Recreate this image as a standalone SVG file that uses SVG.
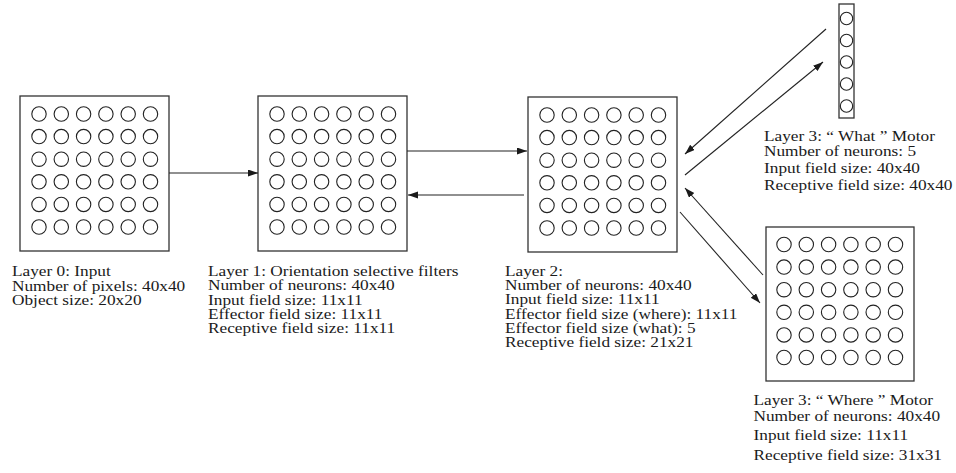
<svg xmlns="http://www.w3.org/2000/svg" xmlns:xlink="http://www.w3.org/1999/xlink" width="956" height="473" viewBox="0 0 956 473">
<style>
.box{fill:#fff;stroke:#333;stroke-width:1.3}
.n{fill:none;stroke:#222;stroke-width:1.1}
.c{stroke:#222;stroke-width:1.1;fill:none}
text{font-family:"Liberation Serif","Times New Roman",serif;font-size:15.5px;fill:#1a1a1a}
</style>
<defs>
<marker id="ah" markerUnits="userSpaceOnUse" markerWidth="11" markerHeight="8" refX="10" refY="3.5" orient="auto">
<path d="M0,0 L10,3.5 L0,7 z" fill="#1a1a1a"/>
</marker>
<g id="grid">
<g class="n">
<circle cx="19" cy="18" r="7.2"/><circle cx="41.3" cy="18" r="7.2"/><circle cx="63.6" cy="18" r="7.2"/><circle cx="85.9" cy="18" r="7.2"/><circle cx="108.2" cy="18" r="7.2"/><circle cx="130.5" cy="18" r="7.2"/>
<circle cx="19" cy="40.6" r="7.2"/><circle cx="41.3" cy="40.6" r="7.2"/><circle cx="63.6" cy="40.6" r="7.2"/><circle cx="85.9" cy="40.6" r="7.2"/><circle cx="108.2" cy="40.6" r="7.2"/><circle cx="130.5" cy="40.6" r="7.2"/>
<circle cx="19" cy="63.2" r="7.2"/><circle cx="41.3" cy="63.2" r="7.2"/><circle cx="63.6" cy="63.2" r="7.2"/><circle cx="85.9" cy="63.2" r="7.2"/><circle cx="108.2" cy="63.2" r="7.2"/><circle cx="130.5" cy="63.2" r="7.2"/>
<circle cx="19" cy="85.8" r="7.2"/><circle cx="41.3" cy="85.8" r="7.2"/><circle cx="63.6" cy="85.8" r="7.2"/><circle cx="85.9" cy="85.8" r="7.2"/><circle cx="108.2" cy="85.8" r="7.2"/><circle cx="130.5" cy="85.8" r="7.2"/>
<circle cx="19" cy="108.4" r="7.2"/><circle cx="41.3" cy="108.4" r="7.2"/><circle cx="63.6" cy="108.4" r="7.2"/><circle cx="85.9" cy="108.4" r="7.2"/><circle cx="108.2" cy="108.4" r="7.2"/><circle cx="130.5" cy="108.4" r="7.2"/>
<circle cx="19" cy="131" r="7.2"/><circle cx="41.3" cy="131" r="7.2"/><circle cx="63.6" cy="131" r="7.2"/><circle cx="85.9" cy="131" r="7.2"/><circle cx="108.2" cy="131" r="7.2"/><circle cx="130.5" cy="131" r="7.2"/>
</g>
</g>
</defs>
<rect width="956" height="473" fill="#fff"/>

<g id="layer0">
<rect class="box" x="20" y="96" width="149" height="155"/>
<use xlink:href="#grid" href="#grid" transform="translate(20,96)"/>
<text transform="translate(12,0) scale(1.115,1)"><tspan x="0" y="276.5">Layer 0: Input</tspan><tspan x="0" y="291">Number of pixels: 40x40</tspan><tspan x="0" y="305.5">Object size: 20x20</tspan></text>
</g>

<g id="layer1">
<rect class="box" x="258" y="96" width="149" height="155"/>
<use xlink:href="#grid" href="#grid" transform="translate(258,96)"/>
<text transform="translate(208,0) scale(1.115,1)"><tspan x="0" y="276">Layer 1: Orientation selective filters</tspan><tspan x="0" y="290.3">Number of neurons: 40x40</tspan><tspan x="0" y="304.6">Input field size: 11x11</tspan><tspan x="0" y="318.9">Effector field size: 11x11</tspan><tspan x="0" y="333.2">Receptive field size: 11x11</tspan></text>
</g>

<g id="layer2">
<rect class="box" x="528" y="97" width="149" height="155"/>
<use xlink:href="#grid" href="#grid" transform="translate(528,97)"/>
<text transform="translate(505,0) scale(1.115,1)"><tspan x="0" y="276">Layer 2:</tspan><tspan x="0" y="290.2">Number of neurons: 40x40</tspan><tspan x="0" y="304.4">Input field size: 11x11</tspan><tspan x="0" y="318.6">Effector field size (where): 11x11</tspan><tspan x="0" y="332.8">Effector field size (what): 5</tspan><tspan x="0" y="347">Receptive field size: 21x21</tspan></text>
</g>

<g id="what">
<rect class="box" x="839" y="4" width="15" height="114"/>
<g class="n">
<circle cx="846.5" cy="18.5" r="6.2"/>
<circle cx="846.5" cy="40.5" r="6.2"/>
<circle cx="846.5" cy="62" r="6.2"/>
<circle cx="846.5" cy="84" r="6.2"/>
<circle cx="846.5" cy="106" r="6.2"/>
</g>
<text transform="translate(764,0) scale(1.115,1)"><tspan x="0" y="141">Layer 3: “ What ” Motor</tspan><tspan x="0" y="156.3">Number of neurons: 5</tspan><tspan x="0" y="173.3">Input field size: 40x40</tspan><tspan x="0" y="190.5">Receptive field size: 40x40</tspan></text>
</g>

<g id="where">
<rect class="box" x="766" y="227" width="148" height="154"/>
<use xlink:href="#grid" href="#grid" transform="translate(765,226.5)"/>
<text transform="translate(753.5,0) scale(1.115,1)"><tspan x="0" y="405.5">Layer 3: “ Where ” Motor</tspan><tspan x="0" y="421">Number of neurons: 40x40</tspan><tspan x="0" y="440">Input field size: 11x11</tspan><tspan x="0" y="460">Receptive field size: 31x31</tspan></text>
</g>

<g id="connectors" class="c" marker-end="url(#ah)">
<line x1="169" y1="173" x2="258" y2="173"/>
<line x1="407" y1="151" x2="527" y2="151"/>
<line x1="524" y1="195" x2="408" y2="195"/>
<line x1="826" y1="29" x2="685" y2="154"/>
<line x1="685" y1="175" x2="823" y2="62"/>
<line x1="763" y1="275" x2="685" y2="188"/>
<line x1="680" y1="212" x2="760" y2="303"/>
</g>
</svg>
